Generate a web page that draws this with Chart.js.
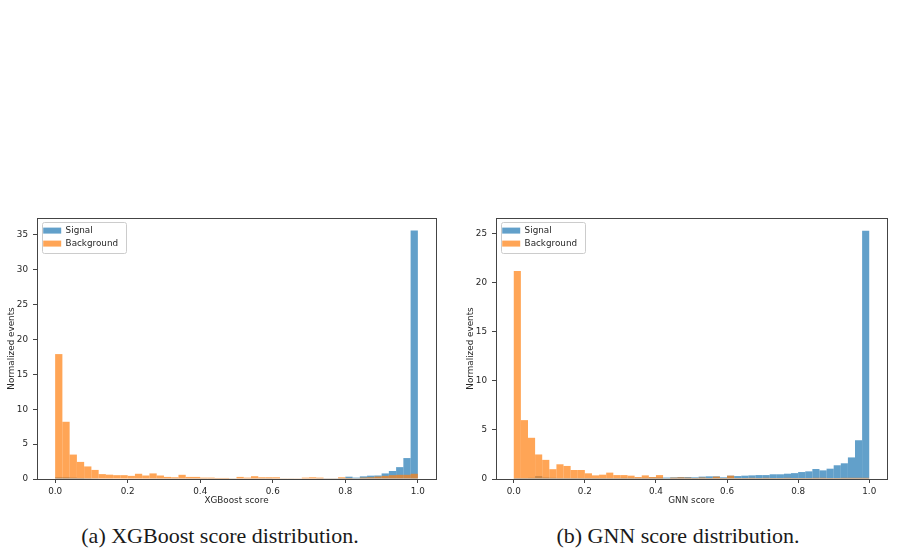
<!DOCTYPE html>
<html>
<head>
<meta charset="utf-8">
<script src="https://cdn.jsdelivr.net/npm/chart.js@4"></script>
<style>
  body { margin: 0; width: 903px; height: 553px; background: #fff; position: relative; overflow: hidden; }
  .panel { position: absolute; top: 205px; height: 305px; }
  #xgbPanel { left: 0; width: 450px; }
  #gnnPanel { left: 455px; width: 448px; }
  .caption { position: absolute; top: 523px; width: 440px; text-align: center; line-height: 26px;
             font-family: "Liberation Serif", "DejaVu Serif", serif; font-size: 22px; color: #1a1a1a; }
</style>
</head>
<body>
<div class="panel" id="xgbPanel"><canvas id="xgbChart"></canvas></div>
<div class="panel" id="gnnPanel"><canvas id="gnnChart"></canvas></div>
<div class="caption" style="left:0px">(a) XGBoost score distribution.</div>
<div class="caption" style="left:458px">(b) GNN score distribution.</div>
<script>
// histogram bins: 50 bins of width 0.02 over [0, 1]
const binStart = 0;
const binWidth = 0.02;
const xTicks = [0, 0.2, 0.4, 0.6, 0.8, 1.0];

const xgbYTicks = [0, 5, 10, 15, 20, 25, 30, 35];
const gnnYTicks = [0, 5, 10, 15, 20, 25];

// normalized events per bin
const xgbSignal = [
  0.25, 0.25, 0.2, 0.15, 0.12, 0.1, 0.08, 0.08, 0.07, 0.07,
  0.06, 0.06, 0.06, 0.05, 0.05, 0.05, 0.05, 0.05, 0.05, 0.05,
  0.05, 0.05, 0.05, 0.05, 0.05, 0.06, 0.06, 0.1, 0.1, 0.1,
  0.06, 0.06, 0.06, 0.08, 0.08, 0.08, 0.1, 0.1, 0.1, 0.12,
  0.33, 0.2, 0.38, 0.48, 0.5, 0.8, 1.15, 1.7, 3.0, 35.6
];
const xgbBackground = [
  17.9, 8.2, 3.5, 2.45, 1.8, 1.3, 0.7, 0.62, 0.55, 0.55,
  0.45, 0.75, 0.5, 0.8, 0.5, 0.3, 0.25, 0.6, 0.3, 0.3,
  0.2, 0.2, 0.15, 0.15, 0.1, 0.3, 0.2, 0.4, 0.25, 0.25,
  0.25, 0.1, 0.1, 0.1, 0.2, 0.25, 0.2, 0.1, 0.1, 0.25,
  0.15, 0.1, 0.2, 0.25, 0.35, 0.45, 0.55, 0.6, 0.6, 0.75
];
const gnnSignal = [
  0.1, 0.1, 0.12, 0.3, 0.15, 0.12, 0.1, 0.1, 0.1, 0.1,
  0.1, 0.1, 0.1, 0.1, 0.1, 0.12, 0.12, 0.12, 0.12, 0.15,
  0.15, 0.15, 0.17, 0.2, 0.2, 0.17, 0.24, 0.27, 0.27, 0.17,
  0.34, 0.3, 0.34, 0.37, 0.4, 0.4, 0.48, 0.48, 0.54, 0.6,
  0.71, 0.78, 1.02, 0.88, 1.05, 1.4, 1.6, 2.2, 3.95, 25.3
];
const gnnBackground = [
  21.2, 6.0, 4.2, 2.5, 1.95, 1.0, 1.5, 1.33, 0.92, 0.92,
  0.58, 0.37, 0.44, 0.65, 0.4, 0.4, 0.34, 0.2, 0.37, 0.2,
  0.4, 0.07, 0.14, 0.17, 0.14, 0.1, 0.15, 0.1, 0.24, 0.1,
  0.34, 0.1, 0.1, 0.12, 0.1, 0.12, 0.1, 0.1, 0.12, 0.1,
  0.1, 0.1, 0.12, 0.12, 0.1, 0.1, 0.12, 0.12, 0.12, 0.12
];

const binCenters = xgbSignal.map((_, i) => +(binStart + binWidth * (i + 0.5)).toFixed(3));

const textColor = '#262626';
const axisColor = '#444';
const smallFont = { family: '"DejaVu Sans", sans-serif', size: 8.8 };

// matplotlib-style box around the plot area and a framed legend
const axesFrame = {
  id: 'axesFrame',
  afterLayout(chart) {
    // legend in 'chartArea' gets top reset to 0, move it inside the axes
    const lg = chart.legend;
    const dx = chart.chartArea.left + 2 - lg.left;
    const dy = chart.chartArea.top + 4 - lg.top;
    lg.left += dx; lg.right += dx;
    lg.top += dy; lg.bottom += dy;
    lg.legendHitBoxes.forEach(h => { h.left += dx; h.top += dy; });
  },
  beforeDraw(chart) {
    const boxes = chart.legend.legendHitBoxes;
    if (!boxes.length) return;
    const ctx = chart.ctx;
    const left = Math.min(...boxes.map(b => b.left)) - 3;
    const top = Math.min(...boxes.map(b => b.top)) - 4;
    const right = Math.max(...boxes.map(b => b.left + b.width)) + 6;
    const bottom = Math.max(...boxes.map(b => b.top + b.height)) + 5;
    ctx.save();
    ctx.fillStyle = 'rgba(255,255,255,0.8)';
    ctx.strokeStyle = '#cccccc';
    ctx.lineWidth = 1;
    ctx.beginPath();
    ctx.roundRect(Math.round(left) + 0.5, Math.round(top) + 0.5, Math.round(right - left), Math.round(bottom - top), 2);
    ctx.fill();
    ctx.stroke();
    ctx.restore();
  },
  afterDatasetsDraw(chart) {
    const a = chart.chartArea;
    const ctx = chart.ctx;
    ctx.save();
    ctx.strokeStyle = axisColor;
    ctx.lineWidth = 1;
    ctx.strokeRect(Math.round(a.left) + 0.5, Math.round(a.top) + 0.5,
                   Math.round(a.right - a.left), Math.round(a.bottom - a.top));
    ctx.restore();
  }
};

function histChart(id, xTitle, signal, background, yTicks, yMax, yAxisWidth, titlePad, padRight) {
  const ctx = document.getElementById(id).getContext('2d');
  return new Chart(ctx, {
    type: 'bar',
    data: {
      datasets: [{
        label: 'Signal',
        data: signal.map((y, i) => ({ x: binCenters[i], y })),
        backgroundColor: 'rgba(31,119,180,0.7)',
        order: 1
      }, {
        label: 'Background',
        data: background.map((y, i) => ({ x: binCenters[i], y })),
        backgroundColor: 'rgba(255,127,14,0.7)',
        order: 0
      }]
    },
    options: {
      responsive: true,
      maintainAspectRatio: false,
      animation: false,
      events: [],
      datasets: {
        bar: { grouped: false, barPercentage: 1, categoryPercentage: 1, borderWidth: 0, inflateAmount: 0 }
      },
      layout: { padding: { top: 13, right: padRight, left: 0, bottom: 0 } },
      plugins: {
        tooltip: { enabled: false },
        legend: {
          position: 'chartArea',
          align: 'start',
          labels: {
            boxWidth: 18,
            boxHeight: 6,
            padding: 4.2,
            color: textColor,
            font: smallFont,
            sort: (a, b) => a.datasetIndex - b.datasetIndex
          }
        }
      },
      scales: {
        x: {
          type: 'linear',
          min: -0.05,
          max: 1.05,
          offset: false,
          border: { display: false },
          grid: { drawOnChartArea: false, drawTicks: true, tickLength: 4, tickColor: axisColor, offset: false },
          ticks: { color: textColor, font: smallFont, padding: 3, maxRotation: 0,
                   callback: v => Number(v).toFixed(1) },
          title: { display: true, text: xTitle, color: textColor, font: smallFont, padding: { top: 0, bottom: 4 } },
          afterBuildTicks: s => { s.ticks = xTicks.map(v => ({ value: v })); },
          afterFit: s => { s.height = 31; }
        },
        y: {
          min: 0,
          max: yMax,
          border: { display: false },
          grid: { drawOnChartArea: false, drawTicks: true, tickLength: 4, tickColor: axisColor },
          ticks: { color: textColor, font: smallFont, padding: 5 },
          title: { display: true, text: 'Normalized events', color: textColor, font: smallFont,
                   padding: { top: titlePad, bottom: 0 } },
          afterBuildTicks: s => { s.ticks = yTicks.map(v => ({ value: v })); },
          afterFit: s => { s.width = yAxisWidth; }
        }
      }
    },
    plugins: [axesFrame]
  });
}

histChart('xgbChart', 'XGBoost score', xgbSignal, xgbBackground, xgbYTicks, 37.4, 37, 6, 14);
histChart('gnnChart', 'GNN score', gnnSignal, gnnBackground, gnnYTicks, 26.6, 41, 10, 16);
</script>
</body>
</html>
